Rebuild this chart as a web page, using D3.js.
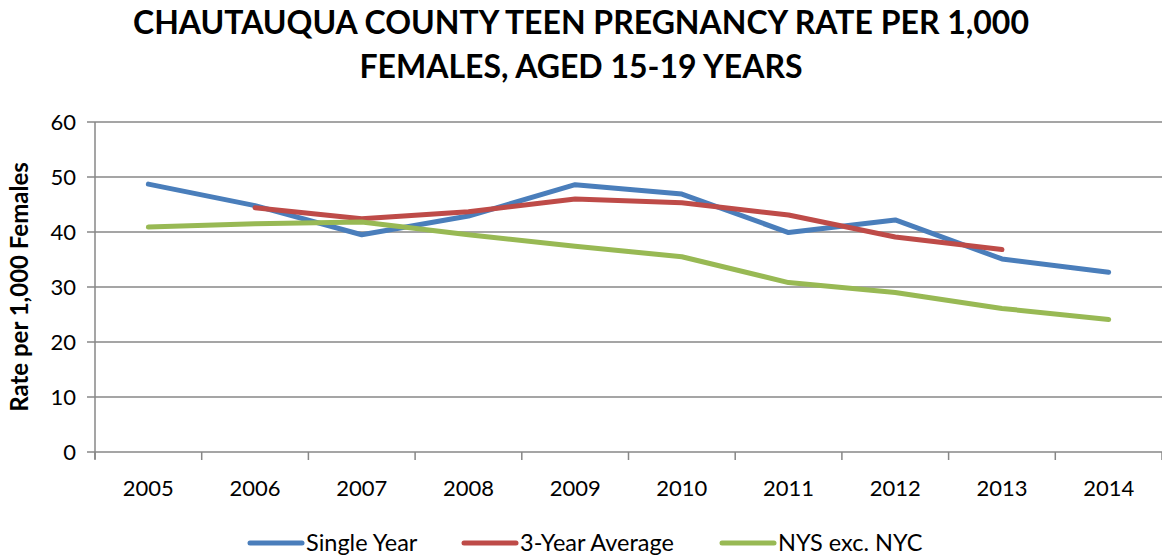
<!DOCTYPE html>
<html>
<head>
<meta charset="utf-8">
<script src="https://cdn.jsdelivr.net/npm/d3@7"></script>
<style>
  body { margin: 0; background: #fff; }
  text { font-family: Lato, "Open Sans", sans-serif; fill: #000; }
</style>
</head>
<body>
<div id="chart"></div>
<script>
// Chart data
const years = ["2005", "2006", "2007", "2008", "2009", "2010", "2011", "2012", "2013", "2014"];
const singleYear = [48.7, 44.8, 39.5, 42.9, 48.6, 46.9, 39.9, 42.2, 35.1, 32.7];
const threeYearAvg = [null, 44.4, 42.4, 43.7, 46.0, 45.3, 43.1, 39.1, 36.8, null];
const nysExNyc = [40.9, 41.5, 41.8, 39.5, 37.4, 35.5, 30.8, 29.0, 26.1, 24.1];
const yTicks = [0, 10, 20, 30, 40, 50, 60];
const titleLines = ["CHAUTAUQUA COUNTY TEEN PREGNANCY RATE PER 1,000", "FEMALES, AGED 15-19 YEARS"];

const series = [
    { name: "Single Year", values: singleYear, color: "#4a7ebb" },
    { name: "3-Year Average", values: threeYearAvg, color: "#be4b48" },
    { name: "NYS exc. NYC", values: nysExNyc, color: "#98b954" }
];

const width = 1162;
const height = 559;
const margin = { top: 122, right: 0, bottom: 107, left: 95 };

const svg = d3.select("#chart")
    .append("svg")
    .attr("width", width)
    .attr("height", height);

const x = d3.scaleBand()
    .domain(years)
    .range([margin.left, width - margin.right]);

const y = d3.scaleLinear()
    .domain([0, 60])
    .range([height - margin.bottom, margin.top]);

// Title
svg.selectAll(".title")
    .data(titleLines)
    .enter()
    .append("text")
    .attr("class", "title")
    .attr("x", 581)
    .attr("y", (d, i) => 34 + i * 44)
    .attr("text-anchor", "middle")
    .style("font-size", "32px")
    .style("font-weight", "bold")
    .text(d => d);

// Gridlines
svg.append("g")
    .selectAll("line")
    .data(yTicks)
    .enter()
    .append("line")
    .attr("x1", margin.left - 8)
    .attr("x2", width - margin.right)
    .attr("y1", d => y(d))
    .attr("y2", d => y(d))
    .attr("stroke", "#878787")
    .attr("stroke-width", 1.5);

// Y axis line
svg.append("line")
    .attr("x1", margin.left)
    .attr("x2", margin.left)
    .attr("y1", y(60))
    .attr("y2", y(0) + 7)
    .attr("stroke", "#878787")
    .attr("stroke-width", 1.5);

// X category ticks
const xEdges = years.map(d => x(d)).concat([x.range()[1]]);
svg.append("g")
    .selectAll("line")
    .data(xEdges)
    .enter()
    .append("line")
    .attr("x1", d => d)
    .attr("x2", d => d)
    .attr("y1", y(0))
    .attr("y2", y(0) + 8)
    .attr("stroke", "#878787")
    .attr("stroke-width", 1.5);

// Y tick labels
svg.append("g")
    .selectAll("text")
    .data(yTicks)
    .enter()
    .append("text")
    .attr("x", margin.left - 19)
    .attr("y", d => y(d))
    .attr("dy", "0.36em")
    .attr("text-anchor", "end")
    .style("font-size", "22px")
    .text(d => d);

// X tick labels
svg.append("g")
    .selectAll("text")
    .data(years)
    .enter()
    .append("text")
    .attr("x", d => x(d) + x.bandwidth() / 2)
    .attr("y", y(0) + 44)
    .attr("text-anchor", "middle")
    .style("font-size", "22px")
    .text(d => d);

// Y axis label
svg.append("text")
    .attr("transform", `translate(28, ${(y(0) + y(60)) / 2}) rotate(-90)`)
    .attr("text-anchor", "middle")
    .style("font-size", "24px")
    .style("font-weight", "bold")
    .text("Rate per 1,000 Females");

// Lines
const line = d3.line()
    .defined(d => d.v != null)
    .x(d => x(d.year) + x.bandwidth() / 2)
    .y(d => y(d.v));

svg.append("g")
    .selectAll("path")
    .data(series)
    .enter()
    .append("path")
    .attr("d", s => line(s.values.map((v, i) => ({ year: years[i], v }))))
    .attr("fill", "none")
    .attr("stroke", s => s.color)
    .attr("stroke-width", 5)
    .attr("stroke-linecap", "round")
    .attr("stroke-linejoin", "round");

// Legend
const legendX = [250, 464, 722];
const legend = svg.append("g")
    .selectAll("g")
    .data(series)
    .enter()
    .append("g")
    .attr("transform", (d, i) => `translate(${legendX[i]}, 543)`);

legend.append("line")
    .attr("x1", 0)
    .attr("x2", 52)
    .attr("stroke", d => d.color)
    .attr("stroke-width", 5)
    .attr("stroke-linecap", "round");

legend.append("text")
    .attr("x", 56)
    .attr("dy", "0.36em")
    .style("font-size", "23.5px")
    .text(d => d.name);
</script>
</body>
</html>
